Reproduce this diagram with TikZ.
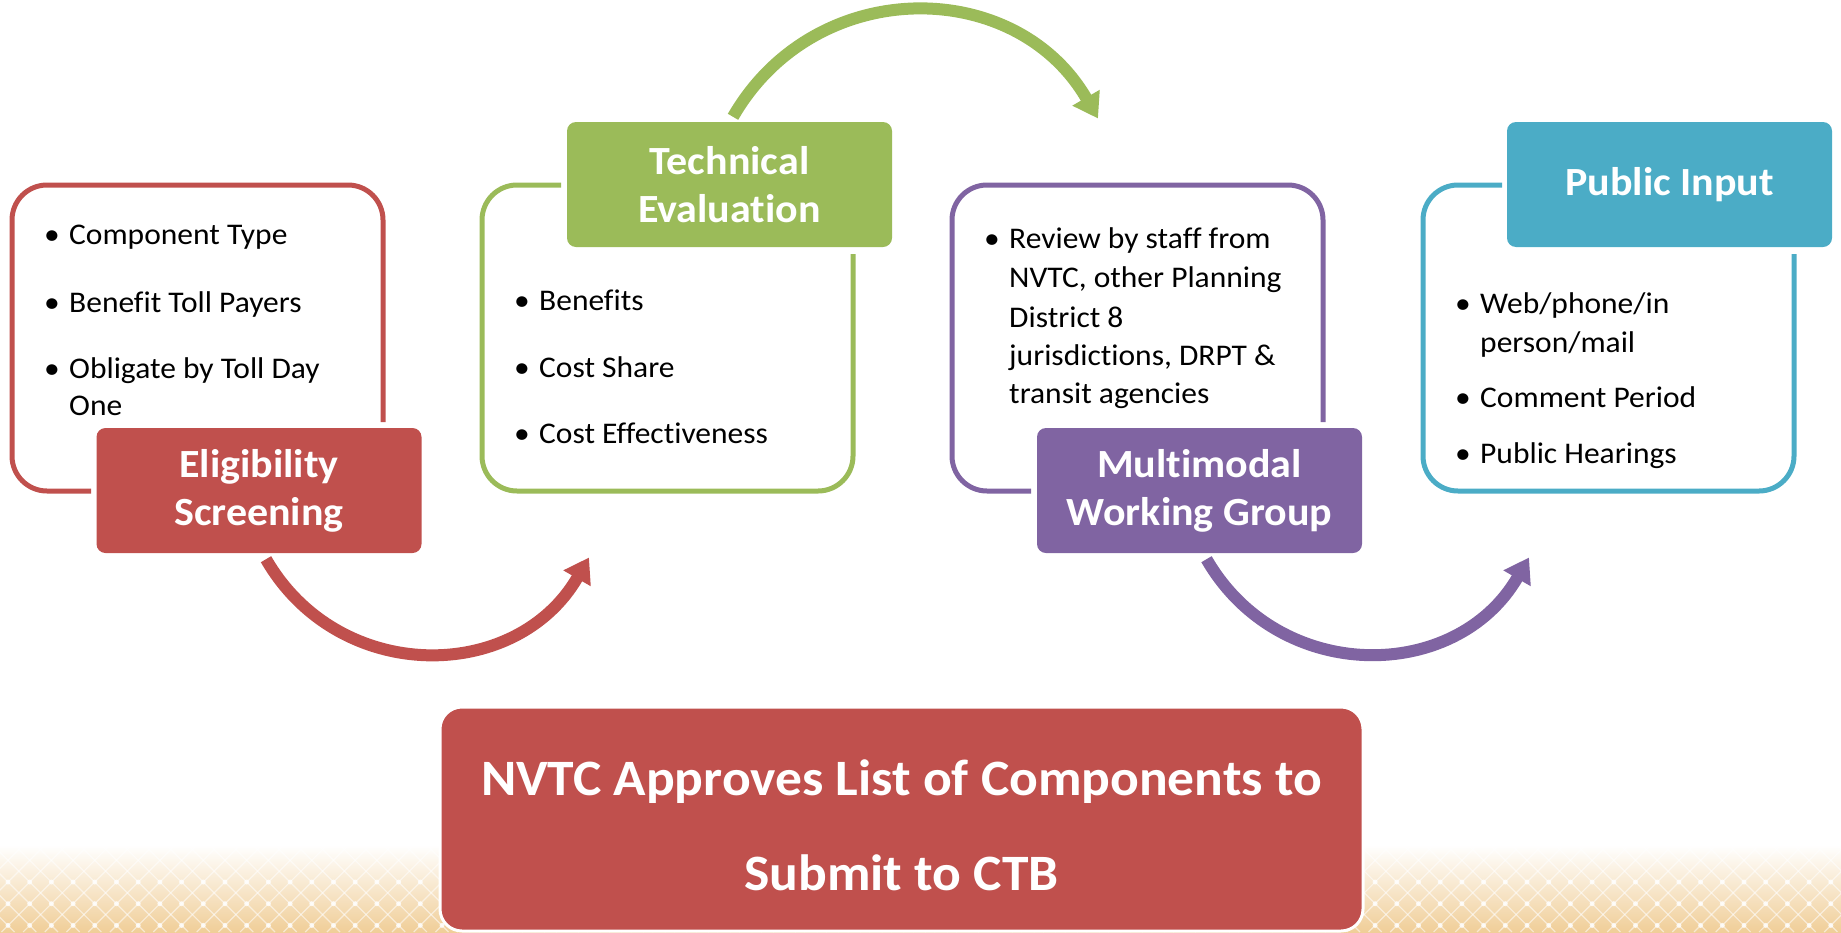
\documentclass[tikz,border=0pt]{standalone}
\usepackage{fontspec}
\setmainfont{Carlito}[FakeStretch=1.05,Ligatures=NoCommon]
\usetikzlibrary{arrows.meta}
\definecolor{redc}{RGB}{192,80,77}
\definecolor{greenc}{RGB}{155,187,89}
\definecolor{purplec}{RGB}{128,100,162}
\definecolor{bluec}{RGB}{75,172,198}
\definecolor{sand}{RGB}{240,206,152}
\newcommand\dotmark{\llap{\textbullet\hspace{9.5pt}}}
\tikzset{
  frame/.style={line width=5pt,rounded corners=35pt},
  lbl/.style={rounded corners=9pt,minimum width=325pt,minimum height=125pt,inner sep=0pt,
    text=white,align=center,font=\bfseries\fontsize{40}{48}\selectfont},
  item/.style={anchor=base west,inner sep=0pt,font=\fontsize{30}{36}\selectfont},
  flow/.style={line width=12pt,-{Triangle[length=24pt,width=30pt]},looseness=1.15},
  lattice/.style={white,line width=1.2pt,opacity=.55}
}
\begin{document}
\begin{tikzpicture}[x=1pt,y=1pt]
\useasboundingbox (0,0) rectangle (1841,-932);
% backdrop
\shade[top color=white,bottom color=sand] (0,-845) rectangle (1841,-932);
\begin{scope}
  \clip (0,-845) rectangle (1841,-932);
  \foreach \k in {-6,...,92} {
    \draw[lattice] (\k*21.7-42,-932) -- ++(110,110);
    \draw[lattice] (\k*21.7+58,-932) -- ++(-110,110);
  }
  \foreach \i in {0,...,85} \foreach \j in {0,1,2} \fill[white,opacity=.8] (8+\i*21.7,-882-\j*21.7) circle (2.5);
\end{scope}
% final step
\node[fill=redc,draw=white,line width=3pt,rounded corners=22pt,minimum width=923pt,minimum height=224pt,
  text=white,align=center,font=\bfseries\fontsize{51}{95}\selectfont] (ctb) at (901.5,-819)
  {\rule{0pt}{48pt}NVTC Approves List of Components to\\Submit to CTB};
% open frames
\foreach \x/\c in {12/redc,952/purplec} \draw[frame,\c] (\x+79,-491) -| (\x,-185) -| (\x+371,-422);
\foreach \x/\c in {482/greenc,1423/bluec} \draw[frame,\c] (\x+79,-185) -| (\x,-491) -| (\x+371,-254);
% stage labels
\node[lbl,fill=redc] (elig) at (259,-490.5) {Eligibility\\Screening};
\node[lbl,fill=greenc] (tech) at (729.5,-184.5) {Technical\\Evaluation};
\node[lbl,fill=purplec] (mmwg) at (1199.5,-490.5) {Multimodal\\Working Group};
\node[lbl,fill=bluec] (pub) at (1669.5,-184.5) {Public Input};
% arrows between stages
\path
  ([shift={(7,-6)}]elig.south) coordinate (r0)
  (589,-557.5) coordinate (r1)
  ([shift={(3.5,5)}]tech.north) coordinate (g0)
  (1098,-118.5) coordinate (g1)
  ([shift={(7,-6)}]mmwg.south) coordinate (p0)
  (1529,-557.5) coordinate (p1);
\draw[flow,redc] (r0) to[out=-60,in=-120] (r1);
\draw[flow,greenc] (g0) to[out=60,in=120] (g1);
\draw[flow,purplec] (p0) to[out=-60,in=-120] (p1);
% bullet lines
\foreach \x/\y/\t [count=\i] in {
  69/244/{\dotmark Component Type},
  69/312/{\dotmark Benefit Toll Payers},
  69/378/{\dotmark Obligate by Toll Day},
  69/415/{One},
  539/310/{\dotmark Benefits},
  539/377/{\dotmark Cost Share},
  539/443/{\dotmark Cost Effectiveness},
  1009/248/{\dotmark Review by staff from},
  1009/287/{NVTC, other Planning},
  1009/327/{District 8},
  1009/365/{jurisdictions, DRPT \&},
  1009/403/{transit agencies},
  1480/313/{\dotmark Web/phone/in},
  1480/352/{person/mail},
  1480/407/{\dotmark Comment Period},
  1480/463/{\dotmark Public Hearings}}
  \node[item] (t\i) at (\x,-\y) {\t};
\end{tikzpicture}
\end{document}
